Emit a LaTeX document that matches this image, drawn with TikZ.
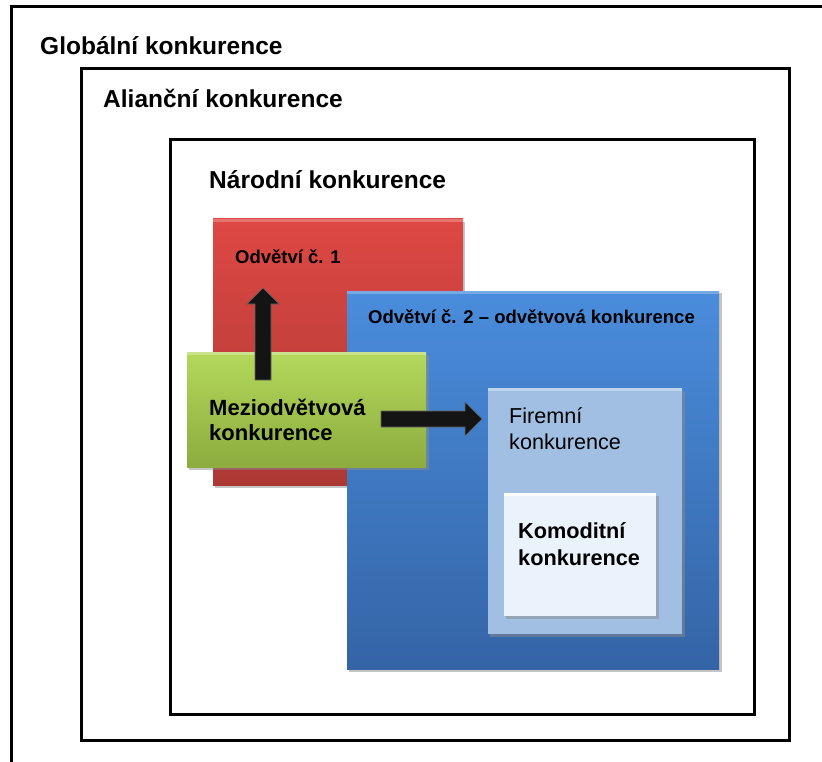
\documentclass[tikz,border=0pt]{standalone}
\usepackage{fontspec}
\setmainfont{Liberation Sans}
\definecolor{redtop}{RGB}{222,72,68}
\definecolor{redbot}{RGB}{172,56,52}
\definecolor{bluetop}{RGB}{74,141,220}
\definecolor{bluebot}{RGB}{52,100,166}
\definecolor{greentop}{RGB}{180,216,92}
\definecolor{greenbot}{RGB}{140,172,62}
\definecolor{lightblue}{RGB}{160,191,227}
\definecolor{paleblue}{RGB}{234,243,252}
\begin{document}
\begin{tikzpicture}[x={(1pt,0)},y={(0,-1pt)},
  frm/.style={draw=black,line width=3pt},
  shadowbox/.style={fill=black!45,opacity=0.5},
  lbl/.style={anchor=base west,inner sep=0pt,align=left},
  big/.style={font=\fontsize{24.5}{28}\selectfont\bfseries},
  mid/.style={font=\fontsize{18.5}{22}\selectfont\bfseries},
  blockarrow/.style={fill=black!92,draw=black!60,line width=0.6pt}]
\useasboundingbox (0,0) rectangle (822,762);
\clip (0,0) rectangle (822,762);
\fill[white] (0,0) rectangle (822,762);
% nested frames
\draw[frm] (11.5,7) rectangle (840,780);
\draw[frm] (81,69) rectangle (789,740);
\draw[frm] (170,140) rectangle (754,714);
% red block
\fill[shadowbox] (215,222) rectangle (465,488);
\shade[top color=redtop,bottom color=redbot] (213,219) rectangle (463,485);
\fill[white,opacity=0.25] (213,219) rectangle (463,222);
% blue block
\fill[shadowbox] (349,293) rectangle (722,672);
\shade[top color=bluetop,bottom color=bluebot] (347,291) rectangle (719,669);
\fill[white,opacity=0.25] (347,291) rectangle (719,294);
% green block
\fill[shadowbox] (189,355) rectangle (429,470);
\shade[top color=greentop,bottom color=greenbot] (187,352) rectangle (426,467);
\fill[white,opacity=0.3] (187,352) rectangle (426,355);
% light blue block
\fill[shadowbox] (490,391) rectangle (685,637);
\fill[lightblue] (488,388) rectangle (682,634);
\fill[white,opacity=0.35] (488,388) rectangle (682,391);
% commodity block
\fill[shadowbox] (506,496) rectangle (659,619);
\fill[paleblue] (504,493) rectangle (656,616);
\fill[white] (504,493) rectangle (656,496);
% arrows
\filldraw[blockarrow] (255,380) -- (255,304) -- (247,304) -- (263,288) -- (279,304) -- (271,304) -- (271,380) -- cycle;
\filldraw[blockarrow] (381,411) -- (465,411) -- (465,402) -- (482,419) -- (465,436) -- (465,427) -- (381,427) -- cycle;
% labels
\node[lbl,big] (glob) at (40,55) {Globální konkurence};
\node[lbl,big] (alian) at (103,108) {Alianční konkurence};
\node[lbl,big] (narod) at (209,189) {Národní konkurence};
\node[lbl,mid] (odv1) at (235,263) {Odvětví č. 1};
\node[lbl,mid] (odv2) at (368,323) {Odvětví č. 2 – odvětvová konkurence};
\node[lbl,font=\fontsize{22}{25}\selectfont\bfseries] (mezi) at (209,440) {Meziodvětvová\\konkurence};
\node[lbl,font=\fontsize{21.6}{26}\selectfont] (firm) at (509,449) {Firemní\\konkurence};
\node[lbl,font=\fontsize{21.7}{27}\selectfont\bfseries] (komod) at (518,565) {Komoditní\\konkurence};
\end{tikzpicture}
\end{document}
